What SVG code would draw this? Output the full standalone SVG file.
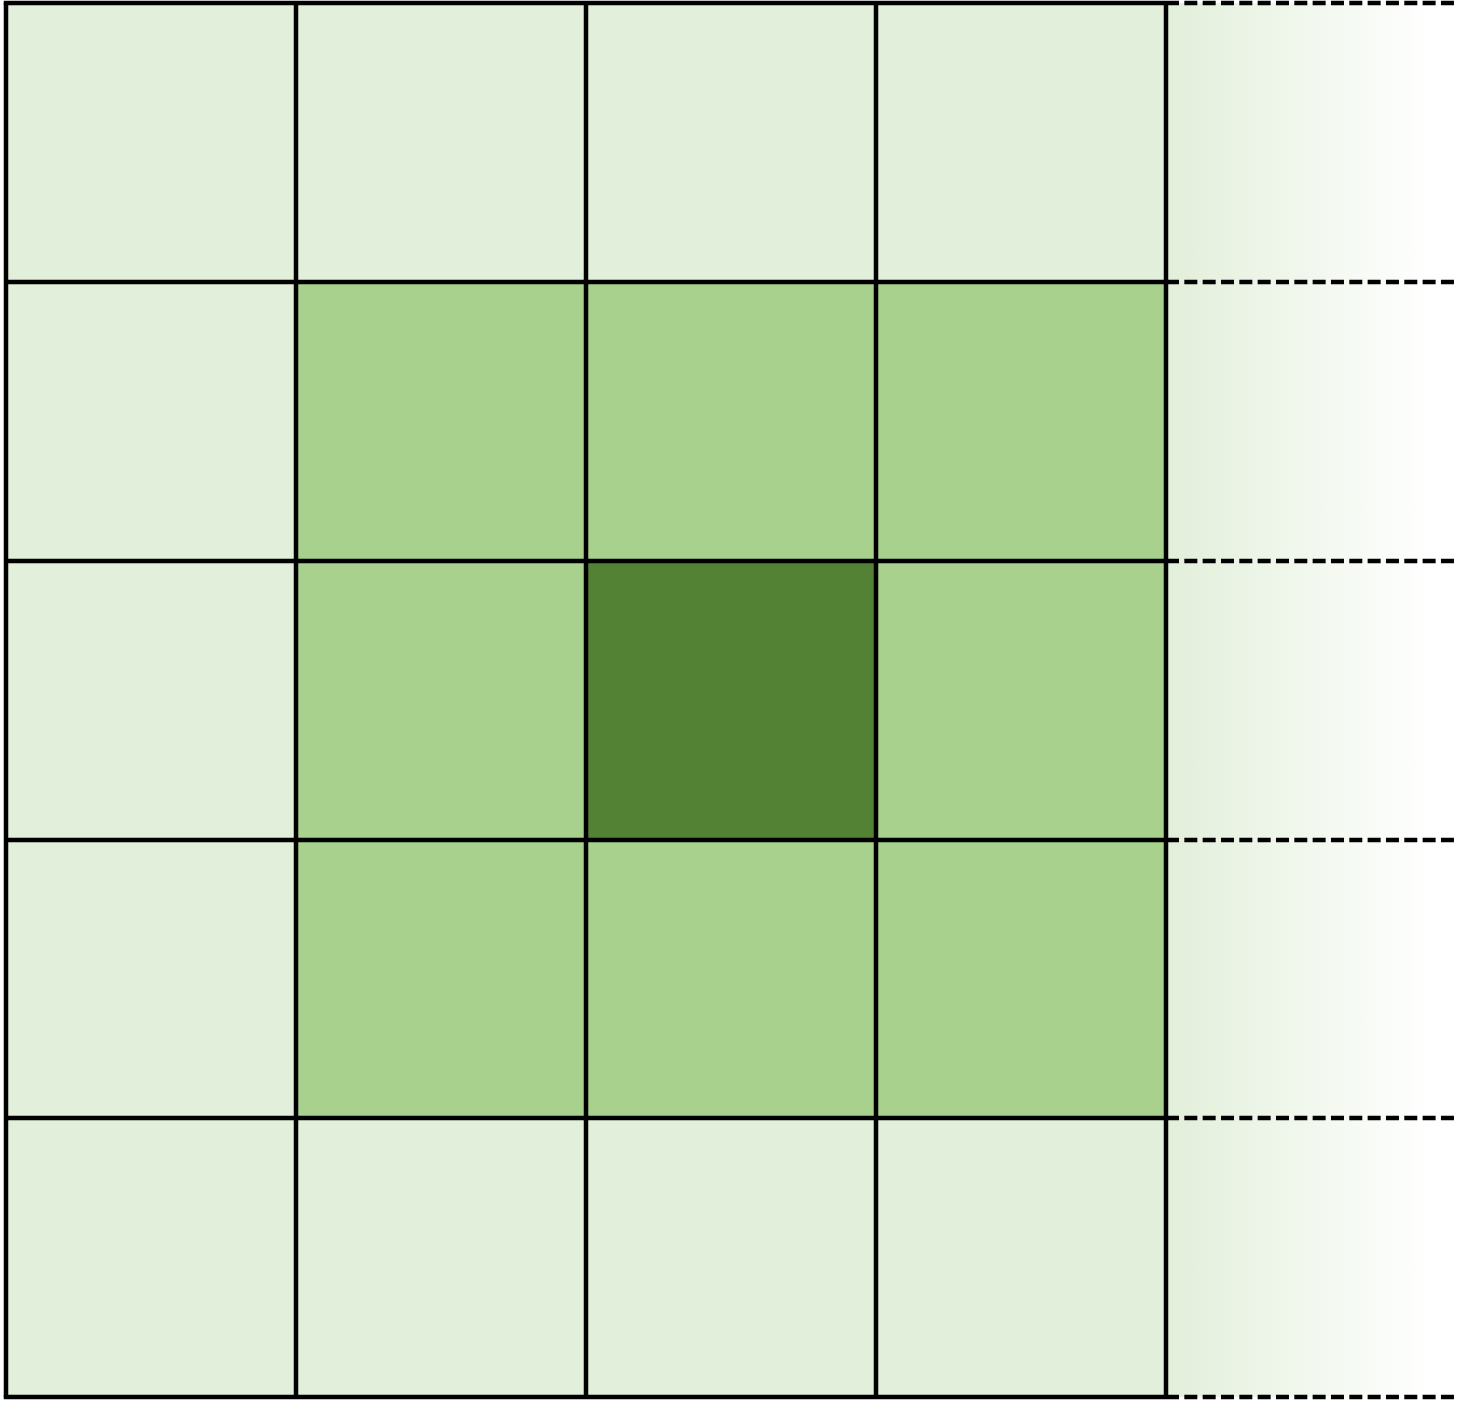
<svg xmlns="http://www.w3.org/2000/svg" width="1466" height="1407" viewBox="0 0 1466 1407">
<defs>
<linearGradient id="fade" x1="0" y1="0" x2="1" y2="0">
<stop offset="0" stop-color="#e2efda"/>
<stop offset="0.92" stop-color="#ffffff"/>
<stop offset="1" stop-color="#ffffff"/>
</linearGradient>
<style>
.l{fill:#e2efda}
.m{fill:#a9d18e}
.d{fill:#548235}
.g{stroke:#000;stroke-width:4.5;fill:none}
.dash{stroke:#000;stroke-width:4.5;stroke-dasharray:13 5.33;fill:none}
</style>
</defs>
<rect width="1466" height="1407" fill="#fff"/>
<g id="cells">
<rect class="l" x="6" y="3" width="290" height="279"/>
<rect class="l" x="296" y="3" width="290" height="279"/>
<rect class="l" x="586" y="3" width="290" height="279"/>
<rect class="l" x="876" y="3" width="290" height="279"/>
<rect class="l" x="6" y="282" width="290" height="279"/>
<rect class="m" x="296" y="282" width="290" height="279"/>
<rect class="m" x="586" y="282" width="290" height="279"/>
<rect class="m" x="876" y="282" width="290" height="279"/>
<rect class="l" x="6" y="561" width="290" height="279"/>
<rect class="m" x="296" y="561" width="290" height="279"/>
<rect class="d" x="586" y="561" width="290" height="279"/>
<rect class="m" x="876" y="561" width="290" height="279"/>
<rect class="l" x="6" y="840" width="290" height="278"/>
<rect class="m" x="296" y="840" width="290" height="278"/>
<rect class="m" x="586" y="840" width="290" height="278"/>
<rect class="m" x="876" y="840" width="290" height="278"/>
<rect class="l" x="6" y="1118" width="290" height="279"/>
<rect class="l" x="296" y="1118" width="290" height="279"/>
<rect class="l" x="586" y="1118" width="290" height="279"/>
<rect class="l" x="876" y="1118" width="290" height="279"/>
<rect x="1166" y="3" width="290" height="1394" fill="url(#fade)"/>
</g>
<g id="grid">
<path class="g" d="M6 3V1397M296 3V1397M586 3V1397M876 3V1397M1166 3V1397"/>
<path class="g" d="M3.75 3H1166M6 282H1166M6 561H1166M6 840H1166M6 1118H1166M3.75 1397H1166"/>
<path class="dash" d="M1166 3H1454M1166 282H1454M1166 561H1454M1166 840H1454M1166 1118H1454M1166 1397H1454"/>
</g>
</svg>
